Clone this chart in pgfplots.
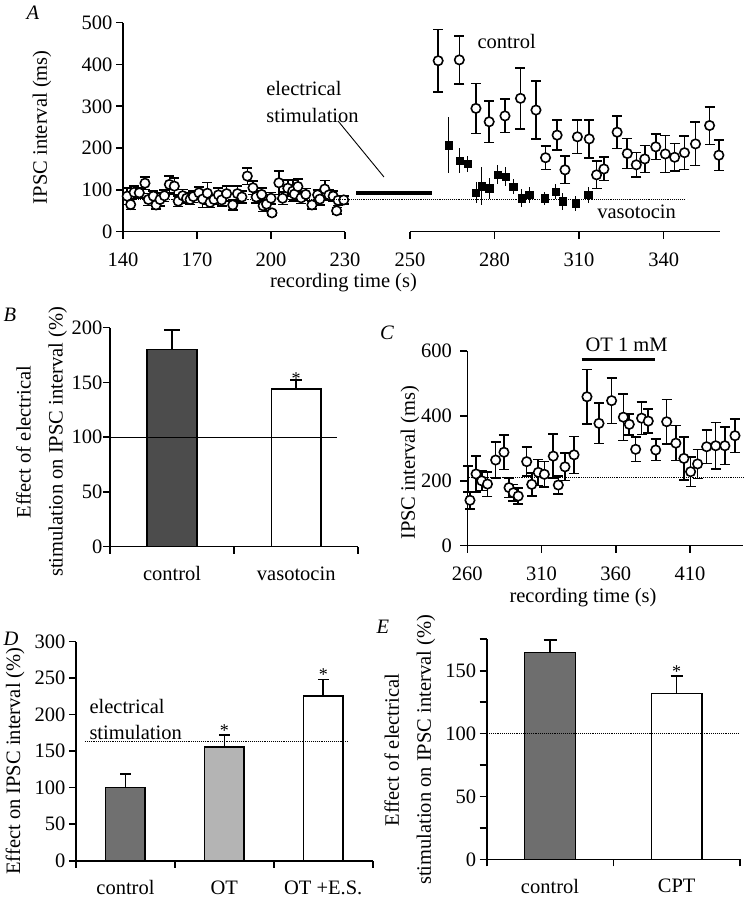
\documentclass[border=0pt]{standalone}
\usepackage{fontspec}
\setmainfont{Liberation Serif}
\usepackage{pgfplots}
\usepackage{pgfplotstable}
\pgfplotsset{compat=1.18}

\pgfplotstableread{
t v e
141.7 85 20
143.1 65 12
144.5 94 15
146.6 93 12
148.9 116 15
150.3 77 14
152.3 85 12
153.4 64 10
155.0 77 15
156.8 86 14
158.8 113 20
160.8 109 20
162.4 73 13
164.2 86 15
165.8 80 12
167.2 77 12
168.5 84 14
170.8 93 14
172.3 78 20
174.2 92 26
175.3 70 12
176.9 77 12
178.7 88 16
180.0 76 15
182.0 91 18
184.5 64 12
186.4 91 18
188.2 83 14
190.4 133 20
192.7 105 16
194.0 83 14
196.2 89 16
196.8 62 14
198.2 66 16
200.0 80 14
200.4 45 6
203.2 117 28
204.7 80 15
206.8 104 20
208.8 97 25
209.5 90 14
210.9 108 18
212.2 81 14
214.1 89 14
216.6 64 10
218.9 88 12
219.8 78 14
221.8 102 20
223.5 88 12
225.2 85 12
226.6 50 8
227.2 75 12
229.5 76 10
}\Apre

\pgfplotstableread{
t v e
260.0 409 75
267.5 411 57
273.4 295 60
278.1 263 50
283.7 277 40
289.2 319 73
294.7 291 69
298.1 177 28
302.2 231 36
305.0 148 33
309.4 227 40
313.6 222 45
316.2 136 33
318.8 150 28
323.5 238 39
327.1 187 36
330.3 160 29
333.3 174 32
337.2 203 30
340.6 186 44
343.9 178 33
347.4 189 40
351.3 210 52
356.3 254 45
359.6 183 37
}\Apost

\pgfplotstableread{
t v e
263.6 207 67
267.5 170 30
270.4 162 18
273.4 93 25
275.4 109 45
278.1 104 25
281.1 137 22
284.0 132 22
286.6 108 18
289.6 80 22
292.3 88 20
297.8 80 15
301.7 96 18
304.1 73 20
308.8 68 18
313.2 88 20
}\Avaso

\pgfplotstableread{
t v e
261.8 140 27
265.9 221 55
269.7 200 30
273.6 190 38
279.1 264 55
284.7 288 53
288.1 179 30
291.0 163 25
294.3 153 25
300.0 259 45
303.4 189 35
307.8 226 40
311.9 220 40
317.9 276 68
321.3 187 28
325.8 243 42
331.9 280 57
340.6 459 84
348.7 377 62
357.2 447 70
365.1 396 72
369.1 374 32
373.4 297 38
377.4 393 50
381.9 384 37
386.9 295 33
394.3 382 68
400.5 316 54
405.9 269 66
410.4 228 46
415.1 252 45
421.2 305 52
427.3 308 72
433.5 308 58
440.3 339 52
}\Cdata

\pgfplotsset{
  /pgf/number format/assume math mode=true,
  base/.style={
    scale only axis,
    font=\fontsize{20.5}{25}\selectfont,
    axis x line=bottom, axis y line=left,
    axis line style={line width=1.6pt,-},
    tick style={line width=1.6pt,black},
    major tick length=7pt, minor tick length=7pt,
    tick align=outside,
    anchor=south west,
    clip=false,
    ylabel style={anchor=center, align=center, font=\fontsize{20.5}{32}\selectfont},
  },
  numx/.style={xticklabel style={yshift=-10.5pt}},
  catx/.style={extra x tick style={major tick length=0pt, xticklabel style={yshift=-16.5pt}}},
  ctrl/.style={only marks, mark=*, mark size=4.7pt,
    mark options={fill=white, draw=black, line width=1.6pt},
    error bars/.cd, y dir=both, y explicit,
    error bar style={line width=1.6pt, black},
    error mark options={rotate=90, mark size=5pt, line width=1.6pt, black}},
  vaso/.style={only marks, mark=square*, mark size=3.6pt,
    mark options={fill=black, draw=black},
    error bars/.cd, y dir=both, y explicit, error mark=none,
    error bar style={line width=0.9pt, black}},
  dline/.style={densely dotted, line width=0.9pt, black, mark=none},
  barp/.style 2 args={ybar, bar width=0.4, bar shift=0pt, fill=#1, draw=black, line width=1.6pt,
    error bars/.cd, y dir=plus, y explicit,
    error bar style={line width=1.6pt, black},
    error mark options={rotate=90, mark size=#2, line width=1.6pt, black}},
}

\begin{document}
\begin{tikzpicture}[x=1pt,y=1pt]
\useasboundingbox (0,0) rectangle (744,900);

% ---------- Panel A (left) ----------
\begin{axis}[base, numx, at={(123pt,668.3pt)}, width=222pt, height=209pt,
  xmin=140, xmax=230, ymin=0, ymax=500,
  xtick={140,170,200,230}, ytick={0,100,...,500},
  ylabel={IPSC interval (ms)},
  ylabel style={at={(axis description cs:-0.365,0.5)}},
  xlabel={recording time (s)},
  xlabel style={at={(axis description cs:0.993,-0.245)}, anchor=center}]
\addplot[dline] coordinates {(140,77.5) (230,77.5)};
\addplot[ctrl] table[x=t,y=v,y error=e] {\Apre};
\node[anchor=west, align=left, font=\fontsize{20.5}{26.7}\selectfont] at (axis cs:196.7,311) {electrical\\stimulation};
\draw[line width=0.9pt] (axis cs:227.2,264.8) -- (axis cs:245.8,130.9);
\end{axis}

% ---------- Panel A (right) ----------
\begin{axis}[base, numx, at={(410pt,668.3pt)}, width=310pt, height=209pt,
  xmin=250, xmax=360, ymin=0, ymax=500, axis y line=none,
  xtick={250,280,310,340}]
\addplot[dline] coordinates {(221.7,77.5) (347.5,77.5)};
\addplot[line width=4pt, mark=none] coordinates {(231,93) (257.8,93)};
\addplot[vaso] table[x=t,y=v,y error=e] {\Avaso};
\addplot[ctrl] table[x=t,y=v,y error=e] {\Apost};
\node at (axis cs:284.3,454.5) {control};
\node at (axis cs:330.4,46.4) {vasotocin};
\end{axis}

% ---------- Panel B ----------
\begin{axis}[base, catx, at={(110pt,353.3pt)}, width=248.3pt, height=219pt,
  xmin=0, xmax=2, ymin=0, ymax=200, ytick={0,50,...,200},
  yticklabel style={xshift=3pt},
  xtick={0,1,2}, xticklabels={},
  extra x ticks={0.5,1.5}, extra x tick labels={control,vasotocin},
  ylabel={Effect of electrical\\stimulation on IPSC interval (\%)},
  ylabel style={at={(axis description cs:-0.276,0.478)}}]
\addplot[barp={black!70}{8.3pt}] coordinates {(0.5,180) +- (0,18)};
\addplot[barp={white}{5.8pt}] coordinates {(1.5,144) +- (0,8)};
\addplot[line width=1pt, mark=none] coordinates {(0,100) (1.826,100)};
\node[anchor=base, font=\fontsize{18}{18}\selectfont] at (axis cs:1.5,148) {*};
\end{axis}

% ---------- Panel C ----------
\begin{axis}[base, numx, at={(467.3pt,354.3pt)}, width=276pt, height=194.7pt,
  xmin=260, xmax=445.9, ymin=0, ymax=600,
  xtick={260,310,360,410}, ytick={0,200,400,600},
  yticklabel style={xshift=-5pt},
  ylabel={IPSC interval (ms)},
  ylabel style={at={(axis description cs:-0.2076,0.426)}},
  xlabel={recording time (s)},
  xlabel style={at={(axis description cs:0.419,-0.269)}, anchor=center}]
\addplot[dline] coordinates {(260,209.5) (445.9,209.5)};
\addplot[line width=3pt, mark=none] coordinates {(337,574) (386.4,574)};
\node at (axis cs:367.3,618.5) {OT 1 mM};
\addplot[draw=none, mark=none, error bars/.cd, y dir=both, y explicit,
  error bar style={line width=1.6pt, draw=black},
  error mark options={rotate=90, mark size=5pt, line width=1.6pt, draw=black}]
  coordinates {(260.5,205) +- (0,40)};
\addplot[ctrl] table[x=t,y=v,y error=e] {\Cdata};
\end{axis}

% ---------- Panel D ----------
\begin{axis}[base, catx, at={(76pt,39.3pt)}, width=296.7pt, height=219pt,
  xmin=0, xmax=3, ymin=0, ymax=300, ytick={0,50,...,300},
  xtick={0,1,2,3}, xticklabels={},
  extra x ticks={0.5,1.5,2.5}, extra x tick labels={control,OT,OT +E.S.},
  ylabel={Effect on IPSC interval (\%)},
  ylabel style={at={(axis description cs:-0.205,0.455)}}]
\definecolor{dgray}{HTML}{707070}
\definecolor{lgray}{HTML}{B4B4B4}
\addplot[barp={dgray}{5.3pt}] coordinates {(0.5,100) +- (0,19)};
\addplot[barp={lgray}{5.3pt}] coordinates {(1.5,156) +- (0,16)};
\addplot[barp={white}{5.3pt}] coordinates {(2.5,226) +- (0,22)};
\addplot[dline] coordinates {(0.09,163) (2.76,163)};
\node[anchor=west, align=left, font=\fontsize{20.5}{26}\selectfont] at (axis cs:0.101,193) {electrical\\stimulation};
\node[anchor=base, font=\fontsize{18}{18}\selectfont] at (axis cs:1.5,169.5) {*};
\node[anchor=base, font=\fontsize{18}{18}\selectfont] at (axis cs:2.5,246.6) {*};
\end{axis}

% ---------- Panel E ----------
\begin{axis}[base, catx, at={(486.7pt,40.7pt)}, width=253.3pt, height=220pt,
  xmin=0, xmax=2, ymin=0, ymax=175, ytick={0,50,100,150},
  minor ytick={25,75,125,175},
  xtick={0,1,2}, xticklabels={},
  extra x ticks={0.5,1.5}, extra x tick labels={control,CPT},
  ylabel={Effect of electrical\\stimulation on IPSC interval (\%)},
  ylabel style={at={(axis description cs:-0.303,0.497)}}]
\definecolor{egray}{HTML}{6E6E6E}
\addplot[barp={egray}{6.5pt}] coordinates {(0.5,164.5) +- (0,10)};
\addplot[barp={white}{6pt}] coordinates {(1.5,132) +- (0,14)};
\addplot[dline] coordinates {(0.018,100) (1.984,100)};
\node[anchor=base, font=\fontsize{18}{18}\selectfont] at (axis cs:1.5,144.7) {*};
\end{axis}

% panel letters
\node[font=\itshape\fontsize{20.5}{24}\selectfont] at (33,887) {A};
\node[font=\itshape\fontsize{20.5}{24}\selectfont] at (10,585) {B};
\node[font=\itshape\fontsize{20.5}{24}\selectfont] at (387,567) {C};
\node[font=\itshape\fontsize{20.5}{24}\selectfont] at (11,261) {D};
\node[font=\itshape\fontsize{20.5}{24}\selectfont] at (383,273) {E};
\end{tikzpicture}
\end{document}
